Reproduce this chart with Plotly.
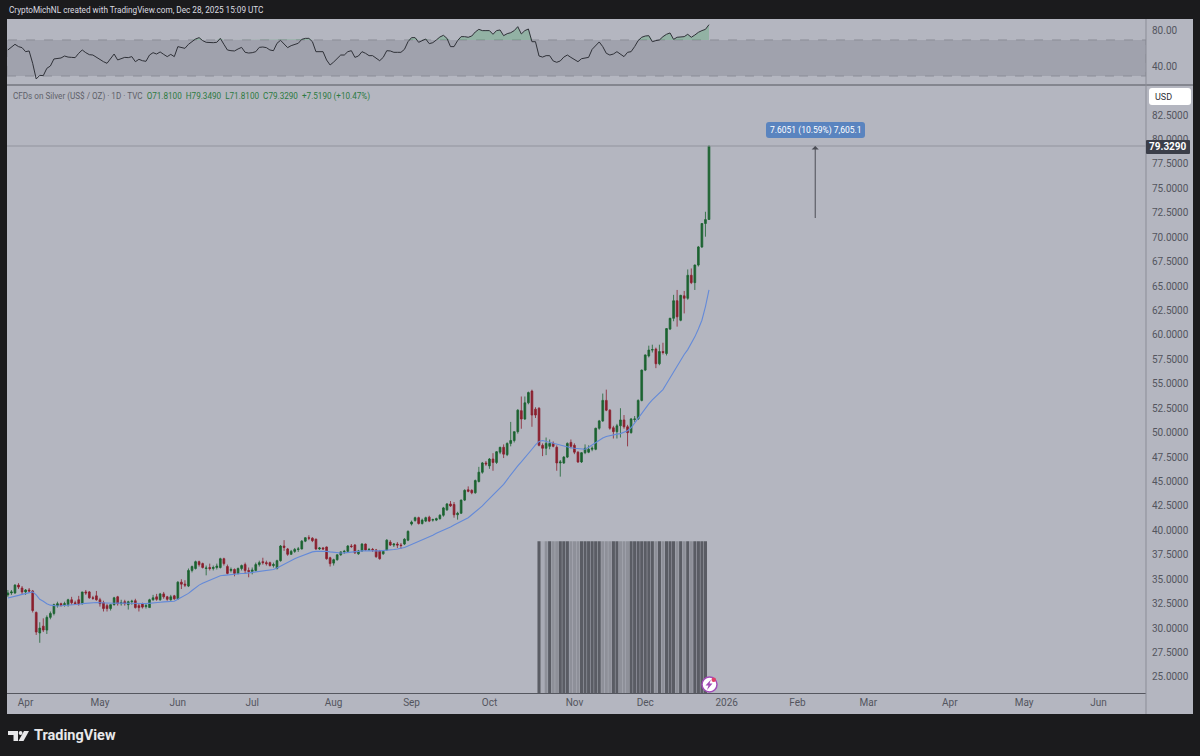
import pandas as pd
import plotly.graph_objects as go

W, H = 1200, 756

opens = [33.4,33.6,33.6,34.4,34.1,33.7,33.9,33.8,31.6,29.5,
30.2,29.8,31.1,31.5,32.3,32.5,32.4,32.4,32.9,32.6,
32.9,32.5,33.7,33.7,33.1,33.3,32.9,32.6,32.3,32.0,
32.4,33.2,32.5,32.7,32.4,32.7,32.8,32.3,32.5,32.2,
32.1,32.9,33.2,32.9,33.5,33.2,32.9,33.3,33.0,34.7,
34.5,34.3,35.9,36.1,36.8,36.6,36.1,36.2,36.1,36.2,
36.2,37.1,36.3,35.9,36.0,35.6,36.1,36.5,35.9,35.8,
35.9,36.5,36.8,36.7,36.7,36.4,36.1,36.9,38.4,38.1,
37.55,37.85,38.05,38.1,38.9,39.25,39.2,39.1,38.1,38.2,
38.3,37.2,36.65,37.0,37.5,37.8,37.85,38.4,38.5,37.6,
37.9,38.6,38.0,38.05,38.0,37.9,37.6,38.0,38.8,38.5,
38.6,38.5,38.6,39.0,40.65,41.0,41.3,40.7,40.95,41.35,
41.05,41.05,41.2,41.55,42.1,42.7,42.65,41.6,41.75,43.1,
44.15,44.1,43.85,45.0,45.95,46.9,46.6,47.3,46.95,48.0,
48.5,47.75,48.9,49.2,50.1,52.25,51.4,53.05,54.25,52.4,
52.5,48.7,48.4,48.6,48.9,48.5,46.9,46.9,47.5,49.0,
48.7,48.0,47.0,47.95,48.0,48.3,48.3,50.45,51.2,53.3,
52.3,50.5,50.1,50.7,51.3,50.6,50.0,51.35,51.4,53.3,
56.4,57.85,58.45,58.55,57.05,58.3,58.1,60.6,61.7,63.5,
61.5,64.0,63.75,66.1,65.35,67.15,69.0,71.4,71.81]

highs = [33.9,33.9,34.5,34.6,34.3,34.0,34.1,33.9,31.7,30.6,
31.0,31.3,31.7,32.5,32.7,32.6,32.7,33.0,33.2,32.8,
33.3,33.7,33.9,33.8,33.3,33.8,33.1,32.8,32.5,32.4,
33.2,33.3,32.9,32.9,32.8,32.9,33.0,32.5,32.6,32.5,
33.0,33.4,33.5,33.6,33.7,33.3,33.4,33.4,34.8,35.0,
34.9,36.1,36.4,36.9,36.9,36.7,36.4,36.6,36.4,36.6,
37.2,37.2,36.5,36.2,36.1,36.2,36.5,36.7,36.2,36.2,
36.7,36.9,37.2,36.9,36.8,36.7,37.0,38.5,39.0,38.2,
38.0,38.2,38.3,39.0,39.3,39.5,39.3,39.15,38.3,38.3,
38.35,37.3,37.1,37.55,37.85,38.0,38.5,38.6,38.6,38.0,
38.7,38.65,38.2,38.2,38.1,38.0,37.9,39.1,39.0,38.7,
38.8,38.7,39.2,40.0,41.0,41.4,41.4,41.2,41.4,41.5,
41.2,41.3,41.65,42.4,42.8,43.0,42.9,41.9,43.15,44.2,
44.5,44.2,45.2,46.5,47.0,47.1,47.4,47.9,48.1,48.55,
48.8,49.0,51.1,50.1,52.4,53.7,53.7,54.2,54.4,52.6,
52.6,48.9,49.5,49.3,49.1,48.7,47.2,47.6,49.0,49.3,
48.9,48.1,48.0,48.8,48.7,48.6,50.5,51.3,54.0,54.4,
52.4,50.7,50.9,52.5,51.8,50.8,51.5,51.7,53.4,56.45,
58.0,58.9,59.0,58.7,59.0,59.2,60.7,61.75,64.1,64.6,
64.1,64.5,66.7,66.8,67.2,69.1,71.45,72.6,79.35]

lows = [33.2,33.4,33.5,34.0,33.4,33.4,33.6,31.6,29.3,28.5,
29.6,29.4,30.9,31.3,32.1,32.2,32.2,32.2,32.4,32.4,
32.3,32.4,33.4,33.0,32.9,32.8,32.2,31.7,31.7,31.8,
32.3,32.3,32.3,32.3,31.9,32.4,32.0,31.7,32.0,32.0,
32.1,32.8,32.8,32.8,33.0,32.8,32.8,32.9,32.9,34.0,
34.2,34.2,35.7,36.0,36.3,36.1,35.4,35.9,35.9,36.0,
36.1,36.4,35.5,35.7,35.3,35.5,35.9,35.6,35.2,35.5,
35.8,36.3,36.5,36.4,36.3,36.2,36.0,36.8,37.9,37.4,
37.5,37.7,37.8,38.05,38.8,39.0,38.8,38.0,38.0,38.0,
37.0,36.3,36.4,36.9,37.4,37.6,37.8,38.2,37.6,37.5,
37.8,37.9,37.9,37.8,37.2,37.0,37.5,37.9,38.4,38.3,
38.2,38.1,38.5,38.9,40.5,40.9,40.6,40.6,40.85,40.85,
40.9,40.95,41.1,41.4,42.0,42.4,41.3,41.1,41.7,43.0,
43.9,43.7,43.75,44.9,45.8,46.6,46.3,46.1,46.8,47.8,
47.4,47.6,48.6,49.0,49.9,50.4,51.3,52.9,50.6,51.5,
48.6,47.6,47.7,48.3,48.5,46.1,45.5,46.8,47.4,48.4,
47.8,46.9,46.9,47.8,47.9,48.1,48.2,50.3,51.1,52.2,
50.3,49.4,49.4,49.5,50.4,48.6,49.9,51.1,51.3,53.2,
56.3,57.7,58.2,56.6,56.9,58.0,57.9,60.5,61.4,60.85,
61.4,62.2,63.6,65.2,64.6,67.0,68.9,70.05,71.81]

closes = [33.6,33.7,34.4,34.2,33.7,33.9,33.8,31.8,29.6,30.0,
29.8,31.1,31.5,32.4,32.5,32.35,32.5,32.9,32.6,32.5,
32.5,33.7,33.6,33.1,33.05,32.9,32.5,32.0,32.0,32.4,
33.1,32.5,32.6,32.5,32.7,32.75,32.1,32.1,32.15,32.3,
32.9,33.1,32.95,33.5,33.2,32.95,33.2,33.0,34.7,34.5,
34.4,35.9,36.3,36.8,36.5,36.2,36.15,36.1,36.2,36.35,
37.1,36.6,35.6,36.0,35.6,36.1,36.4,35.9,35.8,35.95,
36.5,36.7,36.7,36.6,36.4,36.5,36.9,38.4,38.25,37.55,
37.85,38.05,38.1,38.9,39.25,39.2,38.95,38.1,38.2,38.1,
37.1,36.6,37.0,37.5,37.8,37.85,38.4,38.35,37.7,37.9,
38.6,38.0,38.05,38.0,37.3,37.1,37.85,39.0,38.5,38.6,
38.5,38.45,39.1,39.9,40.85,41.3,40.7,41.05,41.3,40.95,
41.1,41.2,41.55,42.3,42.7,42.5,41.6,41.75,43.1,44.1,
44.0,43.85,45.1,45.95,46.9,46.8,47.3,46.95,48.05,48.5,
47.8,48.9,49.2,50.1,52.3,51.4,53.05,54.1,51.8,51.8,
48.7,48.4,48.9,48.9,48.6,46.9,47.0,47.5,48.9,48.6,
48.0,47.0,47.95,48.4,48.3,48.4,50.45,51.2,53.3,52.3,
50.45,50.1,50.7,51.3,50.6,50.0,51.4,51.4,53.3,56.4,
57.95,58.45,58.5,57.05,58.3,58.2,60.65,61.7,63.5,61.85,
64.05,63.75,66.1,65.35,67.15,69.0,71.4,71.8,79.33]

ema = [33.08,33.15,33.25,33.35,33.45,33.55,33.65,33.7,33.4,32.95,
32.75,32.5,32.35,32.27,32.26,32.28,32.3,32.35,32.4,32.42,
32.44,32.5,32.55,32.58,32.6,32.62,32.6,32.58,32.55,32.53,
32.55,32.57,32.57,32.56,32.57,32.58,32.55,32.53,32.52,32.5,
32.52,32.56,32.58,32.65,32.68,32.7,32.73,32.75,32.95,33.15,
33.3,33.55,33.85,34.15,34.4,34.6,34.75,34.9,35.05,35.2,
35.35,35.4,35.45,35.5,35.52,35.56,35.58,35.6,35.65,35.72,
35.8,35.85,35.88,35.92,35.95,36.0,36.15,36.35,36.55,36.75,
36.95,37.1,37.25,37.4,37.55,37.7,37.8,37.85,37.87,37.88,
37.85,37.8,37.75,37.7,37.69,37.7,37.72,37.75,37.82,37.85,
37.9,37.92,37.93,37.92,37.92,37.9,37.92,37.95,38.0,38.05,
38.1,38.15,38.25,38.4,38.55,38.7,38.85,39.0,39.15,39.3,
39.5,39.7,39.85,40.0,40.2,40.35,40.55,40.75,40.95,41.1,
41.3,41.6,41.9,42.2,42.5,42.9,43.25,43.6,43.95,44.3,
44.7,45.2,45.7,46.15,46.6,47.0,47.4,47.85,48.3,48.75,
49.1,49.2,49.1,49.0,48.95,48.85,48.7,48.6,48.5,48.45,
48.4,48.35,48.3,48.3,48.5,48.75,48.95,49.2,49.45,49.6,
49.7,49.8,49.85,49.9,50.05,50.2,50.5,51.0,51.5,52.0,
52.5,52.95,53.35,53.7,54.05,54.4,55.0,55.6,56.2,56.9,
57.5,58.0,58.5,59.1,59.8,60.6,61.5,62.9,64.6]

rsi = [58.9,61.8,65.2,62.6,61.5,57.0,57.8,44.1,26.7,30.7,
30.4,38.5,41.1,48.9,49.6,50.0,52.2,51.0,50.7,50.4,
55.2,58.9,55.9,53.7,53.3,50.7,48.5,45.9,44.1,49.6,
54.4,47.8,48.9,50.7,50.4,51.5,45.9,48.5,47.0,46.3,
53.3,55.9,54.4,56.7,54.0,51.5,54.0,51.5,62.6,61.5,
60.7,65.2,68.1,71.1,72.6,69.3,67.4,67.0,67.0,67.4,
71.8,65.2,58.9,58.1,57.8,60.0,61.8,56.3,55.5,55.9,
57.0,61.8,62.2,61.5,58.9,58.1,66.3,69.6,65.5,61.5,
63.7,64.8,66.3,70.7,71.8,71.8,68.1,57.0,57.0,57.0,
47.8,42.2,45.5,49.6,53.3,53.3,57.0,58.1,50.7,52.2,
57.0,55.2,52.6,52.6,49.6,47.0,50.7,58.1,57.8,56.3,
56.3,56.3,59.6,68.1,72.6,72.6,67.4,69.3,71.1,65.9,
67.0,70.0,73.3,75.2,71.8,62.6,62.6,69.3,73.7,73.7,
73.0,74.4,78.9,81.8,80.4,80.4,80.4,76.3,80.4,81.1,
74.8,77.0,78.1,80.4,84.8,76.7,80.4,82.2,68.1,68.1,
52.2,51.0,52.6,52.6,46.7,45.2,46.7,51.0,53.3,50.7,
47.8,45.9,49.2,50.0,50.7,59.6,63.3,67.8,62.6,55.2,
53.3,54.4,57.0,54.0,51.5,56.3,57.0,62.6,69.3,73.0,
74.4,74.8,68.1,69.3,70.0,73.7,76.3,77.8,70.7,73.0,
73.0,73.7,76.3,73.0,75.5,78.5,80.4,81.8,87.0]

# 1 dark, 0 light, 2 pale
volume_side = [1,2,0,1,0,0,1,1,1,0,
0,0,1,1,1,1,1,1,0,0,
0,1,1,0,0,0,1,1,1,1,
1,1,1,0,1,0,1,1,1,0,
1,0,1,0,1,1,1,1]
volume_vals = [1,1,1,1,1,1,1,1,1,1,
1,1,1,1,1,1,1,1,1,1,
1,1,1,1,1,1,1,1,1,1,
1,1,1,1,1,1,1,1,1,1,
1,1,1,1,1,1,1,1]

price_ticks = [25,27.5,30,32.5,35,37.5,40,42.5,45,47.5,50,52.5,55,57.5,60,62.5,65,67.5,70,72.5,75,77.5,80,82.5]
rsi_ticks = [40,80]
month_labels = ["Apr","May","Jun","Jul","Aug","Sep","Oct","Nov","Dec","2026","Feb","Mar","Apr","May","Jun"]
month_dates = ["2025-04-01","2025-04-30","2025-05-30","2025-06-30","2025-07-31","2025-09-01","2025-10-01",
               "2025-11-04","2025-12-02","2026-01-02","2026-01-30","2026-02-27","2026-04-01","2026-04-30","2026-05-29"]

BG = "#1b1b1d"
PANEL = "#b4b6c0"
TEXT = "#53555e"
UP = "#1c6331"
DOWN = "#8a1f2d"

dates = pd.bdate_range("2025-03-25", periods=len(closes))
all_dates = pd.bdate_range("2025-03-25", periods=324)
vol_dates = dates[-49:-1]
shade = {1: "#5a5c64", 0: "#8e9099", 2: "#a9abb5"}


def px(x):
    return x / W


def py(y):
    return 1 - y / H


def rect(x0, y0, x1, y1, **kw):
    return dict(type="rect", xref="paper", yref="paper", x0=px(x0), x1=px(x1), y0=py(y0), y1=py(y1), **kw)


def poly(points, color):
    path = "M " + " L ".join("%f %f" % (px(a), py(b)) for a, b in points) + " Z"
    return dict(type="path", xref="paper", yref="paper", path=path, fillcolor=color, line_width=0)


def rounded(x0, y0, x1, y1, r, color):
    path = "M %f %f L %f %f Q %f %f %f %f L %f %f Q %f %f %f %f L %f %f Q %f %f %f %f L %f %f Q %f %f %f %f Z" % (
        px(x0 + r), py(y0), px(x1 - r), py(y0), px(x1), py(y0), px(x1), py(y0 + r),
        px(x1), py(y1 - r), px(x1), py(y1), px(x1 - r), py(y1),
        px(x0 + r), py(y1), px(x0), py(y1), px(x0), py(y1 - r),
        px(x0), py(y0 + r), px(x0), py(y0), px(x0 + r), py(y0))
    return dict(type="path", xref="paper", yref="paper", path=path, fillcolor=color, line_width=0)


def label(x, y, text, size=10, color=TEXT, xanchor="left", **kw):
    return dict(xref="paper", yref="paper", x=px(x), y=py(y), text=text, showarrow=False, xanchor=xanchor,
                yanchor="middle", font=dict(size=size, color=color, family="Roboto"), **kw)


fig = go.Figure()

fig.add_trace(go.Bar(x=vol_dates, y=volume_vals, yaxis="y3", marker_color=[shade[s] for s in volume_side],
                     marker_line_width=0, showlegend=False))
fig.add_trace(go.Candlestick(x=dates, open=opens, high=highs, low=lows, close=closes, whiskerwidth=0,
                             increasing=dict(line=dict(color=UP, width=0.8), fillcolor=UP),
                             decreasing=dict(line=dict(color=DOWN, width=0.8), fillcolor=DOWN),
                             showlegend=False))
fig.add_trace(go.Scatter(x=dates, y=ema, mode="lines", line=dict(color="#648ad8", width=1.1), showlegend=False))

# RSI pane
fig.add_trace(go.Scatter(x=dates, y=[70 for _ in rsi], mode="lines", yaxis="y2", line=dict(width=0), showlegend=False))
fig.add_trace(go.Scatter(x=dates, y=[max(v, 70) for v in rsi], mode="lines", yaxis="y2", line=dict(width=0),
                         fill="tonexty", fillcolor="rgba(70,170,100,0.3)", showlegend=False))
fig.add_trace(go.Scatter(x=dates, y=rsi, mode="lines", yaxis="y2", line=dict(color="#2f3138", width=1), showlegend=False))

x_range = [all_dates[0] - pd.Timedelta(hours=6), all_dates[321] + pd.Timedelta(hours=10)]

shapes = [
    rect(7, 19, 1193, 714, fillcolor=PANEL, line_width=0, layer="below"),
    dict(type="rect", xref="x2", yref="y2", x0=x_range[0], x1=x_range[1], y0=30, y1=70,
         fillcolor="rgba(90,92,104,0.22)", line=dict(color="#8b8d97", width=1, dash="dash"), layer="below"),
    dict(type="line", xref="paper", yref="y", x0=px(7), x1=px(1146), y0=closes[-1], y1=closes[-1],
         line=dict(color="#92949e", width=1)),
    dict(type="line", xref="paper", yref="paper", x0=px(7), x1=px(1193), y0=py(85), y1=py(85),
         line=dict(color="#55575f", width=1)),
    dict(type="line", xref="paper", yref="paper", x0=px(1146), x1=px(1146), y0=py(19), y1=py(714),
         line=dict(color="#8b8d97", width=1)),
    rounded(1149, 88, 1191, 105, 3, "#ffffff"),
    rounded(766, 122, 865, 138, 3, "#5a84bf"),
    rounded(1146, 140, 1190, 154, 1, "#3b3e49"),
    # lightning badge
    dict(type="circle", xref="paper", yref="paper", x0=px(702), x1=px(717), y0=py(692), y1=py(677),
         fillcolor="#ffffff", line=dict(color="#a24cb8", width=1.5)),
    poly([(711, 679.5), (705.5, 685.5), (708.5, 685.5), (707, 690), (712.5, 683.5), (709.5, 683.5)], "#a24cb8"),
    dict(type="circle", xref="paper", yref="paper", x0=px(711.5), x1=px(716), y0=py(682), y1=py(677.5),
         fillcolor="#e0406a", line_width=0),
    # TradingView mark
    poly([(8, 731), (18, 731), (18, 741), (13.5, 741), (13.5, 735), (8, 735)], "#e8e8ea"),
    dict(type="circle", xref="paper", yref="paper", x0=px(18.7), x1=px(22.5), y0=py(735), y1=py(731),
         fillcolor="#e8e8ea", line_width=0),
    poly([(24, 731), (29, 731), (23.5, 741), (18.5, 741)], "#e8e8ea"),
]

legend_text = ('CFDs on Silver (US$ / OZ) · 1D · TVC  '
               '<span style="color:#2c7a40">O71.8100  H79.3490  L71.8100  C79.3290  +7.5190 (+10.47%)</span>')

annotations = [
    label(7, 10, "CryptoMichNL created with TradingView.com, Dec 28, 2025 15:09 UTC", size=8.2, color="#dcdce0"),
    label(11, 96, legend_text, size=8.15, color="#5f6169"),
    label(1153, 96.5, "USD", size=9, color="#2f3138"),
    label(1168, 147, "<b>79.3290</b>", size=10, color="#ffffff", xanchor="center"),
    dict(xref="x", yref="y", x=all_dates[228], y=closes[-1], ax=all_dates[228], ay=opens[-1],
         axref="x", ayref="y", showarrow=True, arrowhead=1, arrowsize=1.2, arrowwidth=1, arrowcolor="#4b4d55", text=""),
    label(815.5, 130, "7.6051 (10.59%) 7,605.1", size=8.5, color="#ffffff", xanchor="center"),
    label(32, 735.5, "<b>TradingView</b>", size=14.5, color="#e8e8ea"),
]

fig.update_layout(
    width=W, height=H, margin=dict(l=0, r=0, t=0, b=0), autosize=False,
    paper_bgcolor=BG, plot_bgcolor="rgba(0,0,0,0)",
    bargap=0.12, shapes=shapes, annotations=annotations, showlegend=False,
    font=dict(family="Roboto", size=10, color=TEXT),
    xaxis=dict(domain=[px(7), px(1146)], anchor="y", range=x_range, type="date",
               rangebreaks=[dict(bounds=["sat", "mon"])], rangeslider=dict(visible=False),
               tickmode="array", tickvals=month_dates, ticktext=month_labels, showgrid=False,
               zeroline=False, showline=True, linecolor="#55575f", linewidth=1, ticks="",
               tickfont=dict(size=10, color=TEXT)),
    xaxis2=dict(domain=[px(7), px(1146)], anchor="y2", matches="x", showticklabels=False, showgrid=False,
                zeroline=False, type="date", rangebreaks=[dict(bounds=["sat", "mon"])]),
    yaxis=dict(domain=[py(693), py(86)], anchor="x", side="right", range=[23.36, 85.47], tickmode="array",
               tickvals=price_ticks, tickformat=".4f", showgrid=False, zeroline=False, ticks="",
               ticklabelstandoff=5, tickfont=dict(size=10, color=TEXT)),
    yaxis2=dict(domain=[py(85), py(19)], anchor="x2", side="right", range=[20, 93.3], tickmode="array",
                tickvals=rsi_ticks, tickformat=".2f", showgrid=False, zeroline=False, ticks="",
                ticklabelstandoff=5, tickfont=dict(size=10, color=TEXT)),
    yaxis3=dict(overlaying="y", anchor="x", range=[0, 4], visible=False),
)

for tr in fig.data[3:]:
    tr.update(xaxis="x2")

fig.write_html("out.html", config={"displayModeBar": False},
               post_script="document.body.style.margin='0';document.body.style.background='%s';" % BG)
